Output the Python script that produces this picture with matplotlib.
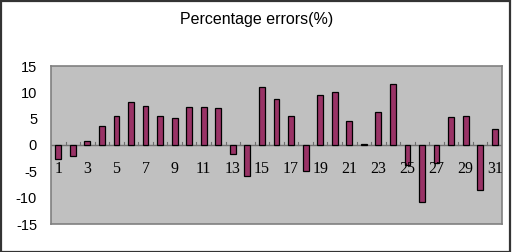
import matplotlib
matplotlib.use("Agg")
import matplotlib.pyplot as plt
import matplotlib.transforms as mtransforms
from matplotlib.patches import Rectangle
import numpy as np

categories = list(range(1, 32))
errors = [-2.7, -2.1, 0.7, 3.6, 5.5, 8.2, 7.5, 5.5, 5.1, 7.2, 7.2, 7.0, -1.8, -5.9,
          11.1, 8.7, 5.5, -4.9, 9.4, 10.1, 4.6, 0.25, 6.3, 11.5, -3.8, -10.9, -3.5,
          5.3, 5.6, -8.5, 3.1]
label_categories = [c for c in categories if c % 2 == 1]
xtick_labels = [str(c) for c in label_categories]
yticks = [-15, -10, -5, 0, 5, 10, 15]
title = "Percentage errors(%)"

fig = plt.figure(figsize=(5.14, 2.52), dpi=100)
fig.patch.set_facecolor("white")
fig.patches.append(Rectangle((0.002, 0.0), 0.991, 0.997, transform=fig.transFigure,
                             fill=False, edgecolor="#333333", linewidth=1.6))

ax = fig.add_axes([51/514, 1-224/252, (502-51)/514, (224-66)/252])
ax.set_facecolor("#C0C0C0")
ax.bar(categories, errors, width=0.4, color="#993366", edgecolor="black", linewidth=0.9, zorder=3)

ax.set_xlim(0.5, 31.5)
ax.set_ylim(-15, 15)
ax.set_yticks(yticks)
ax.set_yticklabels([str(v) for v in yticks], fontfamily="Liberation Sans", fontsize=10.5)
ax.tick_params(axis="y", length=0, pad=10)

for s in ["top", "left", "right", "bottom"]:
    ax.spines[s].set_color("#808080")
    ax.spines[s].set_linewidth(1.2)
ax.set_xticks([])
ax.axhline(0, color="#707070", lw=1.0, zorder=2)

# short category-boundary tick marks on the zero line
for xm in np.arange(1.5, 31.5, 1.0):
    ax.plot([xm, xm], [0, 0.5], color="#707070", lw=0.8, zorder=2)

# category labels just below the zero line
offset = mtransforms.ScaledTranslation(0, -24/100, fig.dpi_scale_trans)
for c, lab in zip(label_categories, xtick_labels):
    ax.text(c, 0, lab, transform=ax.transData + offset,
            ha="center", va="center", fontfamily="Liberation Serif", fontsize=11.5, zorder=5)

fig.text(257/514, 1-20/252, title, ha="center", va="center",
         fontfamily="Liberation Sans", fontsize=11.5)

fig.savefig("out.png", dpi=100)
